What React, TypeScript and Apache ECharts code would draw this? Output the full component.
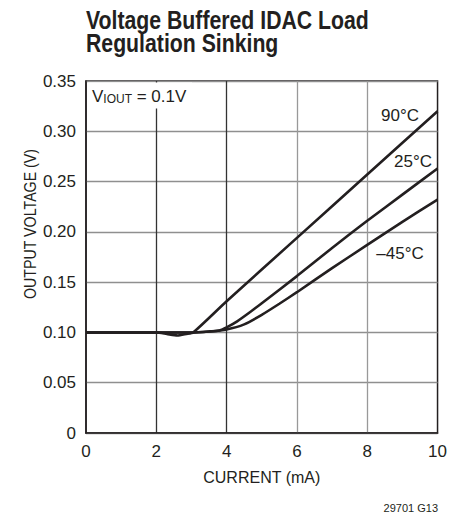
import React, { useEffect, useRef } from "react";
import * as echarts from "echarts";

const xTicks = [0, 2, 4, 6, 8, 10];
const yTicks = [0, 0.05, 0.1, 0.15, 0.2, 0.25, 0.3, 0.35];

const current90 = [0, 1, 2, 2.3, 2.6, 2.85, 3.05, 4, 6, 8, 10];
const volt90 = [0.1, 0.1, 0.1, 0.0985, 0.097, 0.0985, 0.1, 0.131, 0.194, 0.257, 0.32];

const current25 = [0, 2, 3, 3.5, 3.8, 4, 4.3, 4.7, 5, 6, 7, 8, 9, 10];
const volt25 = [0.1, 0.1, 0.1, 0.101, 0.102, 0.105, 0.111, 0.121, 0.129, 0.156, 0.184, 0.211, 0.237, 0.263];

const currentM45 = [0, 2, 3, 3.5, 4, 4.5, 5, 5.5, 6, 7, 8, 9, 10];
const voltM45 = [0.1, 0.1, 0.1, 0.101, 0.103, 0.108, 0.1175, 0.1285, 0.14, 0.164, 0.187, 0.21, 0.232];

const seriesNames = ["90°C", "25°C", "–45°C"];

const FONT = "'Liberation Sans', Arial, Helvetica, sans-serif";
const INK = "#231f20";

export default function App() {
  const ref = useRef<HTMLDivElement>(null);
  useEffect(() => {
    document.body.style.margin = "0";
    const chart = echarts.init(ref.current!, null, { renderer: "svg" });
    const pairs = (xs: number[], ys: number[]) => xs.map((x, i) => [x, ys[i]]);
    const lineSeries = (name: string, data: number[][]) => ({
      name,
      type: "line",
      data,
      showSymbol: false,
      smooth: 0.2,
      lineStyle: { color: INK, width: 2.6 },
      z: 5,
    });
    chart.setOption({
      animation: false,
      grid: { left: 86, top: 81, right: 12, bottom: 82, show: true, borderColor: INK, borderWidth: 1.5, backgroundColor: "transparent" },
      xAxis: {
        type: "value",
        min: xTicks[0],
        max: xTicks[xTicks.length - 1],
        interval: 2,
        name: "CURRENT (mA)",
        nameLocation: "middle",
        nameGap: 36,
        nameTextStyle: { fontFamily: FONT, fontSize: 16, color: INK },
        axisLine: { show: true, lineStyle: { color: INK, width: 1.5 } },
        axisTick: { show: false },
        axisLabel: { fontFamily: FONT, fontSize: 17, color: INK, margin: 10 },
        splitLine: { show: true, showMinLine: false, showMaxLine: false, lineStyle: { color: ["#333333", "#333333", "#999999", "#999999"], width: 1.3 } },
      },
      yAxis: {
        type: "value",
        min: yTicks[0],
        max: yTicks[yTicks.length - 1],
        interval: 0.05,
        axisLine: { show: true, lineStyle: { color: INK, width: 1.5 } },
        axisTick: { show: false },
        axisLabel: {
          fontFamily: FONT,
          fontSize: 17,
          color: INK,
          margin: 10,
          formatter: (v: number) => (Math.abs(v) < 1e-9 ? "0" : v.toFixed(2)),
        },
        splitLine: { show: true, lineStyle: { color: "#8f8f8f", width: 1.3 } },
      },
      series: [
        lineSeries(seriesNames[0], pairs(current90, volt90)),
        lineSeries(seriesNames[1], pairs(current25, volt25)),
        lineSeries(seriesNames[2], pairs(currentM45, voltM45)),
      ],
      graphic: [
        {
          type: "text",
          z: 51,
          x: 86,
          y: 9,
          scaleX: 0.85,
          style: {
            text: "Voltage Buffered IDAC Load\nRegulation Sinking",
            fontFamily: FONT,
            fontWeight: "bold",
            fontSize: 25,
            lineHeight: 23,
            fill: INK,
            verticalAlign: "top",
          },
        },
        { type: "rect", z: 50, shape: { x: 88, y: 82.5, width: 104, height: 26 }, style: { fill: "#fff" } },
        {
          type: "text",
          z: 51,
          x: 92,
          y: 96.5,
          style: {
            text: "{a|V}{b|IOUT}{a| = 0.1V}",
            verticalAlign: "middle",
            rich: {
              a: { fontFamily: FONT, fontSize: 17, fill: INK },
              b: { fontFamily: FONT, fontSize: 12, fill: INK, verticalAlign: "bottom" },
            },
          },
        },
        { type: "text", z: 51, x: 400, y: 115, style: { text: seriesNames[0], fontFamily: FONT, fontSize: 17, fill: INK, align: "center", verticalAlign: "middle" } },
        { type: "text", z: 51, x: 413, y: 161.5, style: { text: seriesNames[1], fontFamily: FONT, fontSize: 17, fill: INK, align: "center", verticalAlign: "middle" } },
        { type: "text", z: 51, x: 400, y: 253, style: { text: seriesNames[2], fontFamily: FONT, fontSize: 17, fill: INK, align: "center", verticalAlign: "middle" } },
        {
          type: "text",
          z: 51,
          x: 30,
          y: 224,
          rotation: Math.PI / 2,
          scaleX: 0.89,
          style: { text: "OUTPUT VOLTAGE (V)", fontFamily: FONT, fontSize: 16, fill: INK, align: "center", verticalAlign: "middle" },
        },
        { type: "text", z: 51, x: 438, y: 508, style: { text: "29701 G13", fontFamily: FONT, fontSize: 11, fill: INK, align: "right", verticalAlign: "middle" } },
      ],
    });
    return () => chart.dispose();
  }, []);
  return <div ref={ref} style={{ width: 450, height: 515 }} />;
}
